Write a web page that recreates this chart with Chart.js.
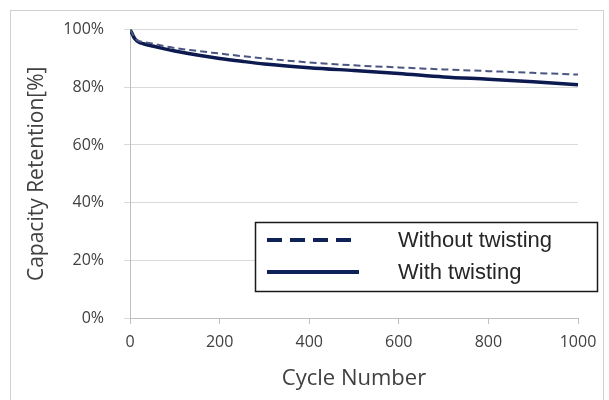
<!DOCTYPE html>
<html>
<head>
<meta charset="utf-8">
<script src="https://cdn.jsdelivr.net/npm/chart.js@4/dist/chart.umd.min.js"></script>
<style>
  html, body { margin: 0; padding: 0; background: #ffffff; }
  #wrap { width: 609px; height: 400px; position: relative; }
</style>
</head>
<body>
<div id="wrap"><canvas id="c" width="609" height="400"></canvas></div>
<script>
// ---- data ----
const cycles = [0, 5, 10, 20, 30, 50, 75, 100, 150, 200, 250, 300, 400, 500, 600, 700, 800, 900, 1000];
const withoutTwisting = [100, 98.6, 97.2, 96.0, 95.7, 95.2, 94.3, 93.6, 92.6, 91.7, 90.8, 90.0, 88.6, 87.6, 86.9, 86.2, 85.6, 85.0, 84.4];
const withTwisting = [100, 98.5, 97.0, 95.6, 95.1, 94.3, 93.4, 92.6, 91.2, 90.0, 89.0, 88.1, 86.8, 85.8, 84.8, 83.6, 82.8, 81.9, 80.9];
const seriesLabels = ["Without twisting", "With twisting"];
const xTicks = [0, 200, 400, 600, 800, 1000];
const yTicks = [0, 20, 40, 60, 80, 100];
const xTitle = "Cycle Number";
const yTitle = "Capacity Retention[%]";

const toPts = (ys) => cycles.map((c, i) => ({ x: c, y: ys[i] }));

const frame = {
  id: 'frame',
  beforeDraw(chart) {
    const ctx = chart.ctx;
    ctx.save();
    ctx.fillStyle = '#ffffff';
    ctx.fillRect(0, 0, chart.width, chart.height);
    ctx.strokeStyle = '#d0d0d0';
    ctx.lineWidth = 1;
    ctx.strokeRect(10.5, 10.5, 593, 395);
    ctx.restore();
  }
};

const boxLegend = {
  id: 'boxLegend',
  afterDraw(chart) {
    const ctx = chart.ctx;
    ctx.save();
    const bx = 255, by = 222, bw = 342, bh = 69;
    ctx.fillStyle = '#ffffff';
    ctx.fillRect(bx, by, bw, bh);
    ctx.strokeStyle = '#1a1a1a';
    ctx.lineWidth = 1.5;
    ctx.strokeRect(bx + 0.5, by + 0.5, bw, bh);
    const rows = [240, 272];
    chart.data.datasets.forEach((ds, i) => {
      const y = rows[i];
      ctx.strokeStyle = '#0f2257';
      ctx.lineWidth = 4;
      ctx.setLineDash(i === 0 ? [15, 8] : []);
      ctx.beginPath();
      ctx.moveTo(267, y);
      ctx.lineTo(359, y);
      ctx.stroke();
      ctx.setLineDash([]);
      ctx.fillStyle = '#262626';
      ctx.font = '22px "Liberation Sans", Arial, sans-serif';
      ctx.textBaseline = 'middle';
      ctx.textAlign = 'left';
      ctx.fillText(ds.label, 398, y + 1);
    });
    ctx.restore();
  }
};

new Chart(document.getElementById('c'), {
  type: 'line',
  data: {
    datasets: [
      {
        label: seriesLabels[0],
        data: toPts(withoutTwisting),
        borderColor: '#4a5680',
        borderWidth: 2,
        borderDash: [7, 4],
        pointRadius: 0,
        cubicInterpolationMode: 'monotone',
        fill: false
      },
      {
        label: seriesLabels[1],
        data: toPts(withTwisting),
        borderColor: '#0c1a4f',
        borderWidth: 3.5,
        pointRadius: 0,
        cubicInterpolationMode: 'monotone',
        fill: false
      }
    ]
  },
  options: {
    responsive: false,
    animation: false,
    layout: { padding: { left: 20, right: 31, top: 27, bottom: 0 } },
    plugins: { legend: { display: false }, tooltip: { enabled: false } },
    scales: {
      x: {
        type: 'linear',
        min: 0, max: 1000,
        afterBuildTicks: (s) => { s.ticks = xTicks.map(v => ({ value: v })); },
        afterFit: (s) => { s.height = 82; },
        grid: { drawOnChartArea: false, drawTicks: true, tickLength: 6, color: '#bfbfbf' },
        border: { color: '#bfbfbf' },
        ticks: { color: '#404040', font: { family: '"Open Sans"', size: 16 }, padding: 9, maxRotation: 0, callback: (v) => String(v) },
        title: { display: true, text: xTitle, color: '#404040', font: { family: '"Open Sans"', size: 22 }, padding: { top: 4, bottom: 8 } }
      },
      y: {
        min: 0, max: 100,
        afterBuildTicks: (s) => { s.ticks = yTicks.map(v => ({ value: v })); },
        afterFit: (s) => { s.width = 110; },
        grid: { color: '#d9d9d9', tickLength: 6 },
        border: { color: '#bfbfbf' },
        ticks: { color: '#404040', font: { family: '"Open Sans"', size: 16 }, padding: 20, callback: (v) => v + '%' },
        title: { display: true, text: yTitle, color: '#404040', font: { family: '"Open Sans"', size: 21 }, padding: { top: 4, bottom: 0 } }
      }
    }
  },
  plugins: [frame, boxLegend]
});
</script>
</body>
</html>
